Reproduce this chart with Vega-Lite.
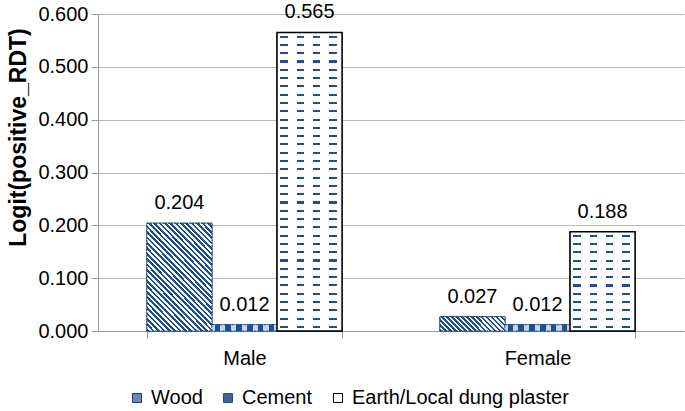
{
  "$schema": "https://vega.github.io/schema/vega-lite/v6.json",
  "width": 586,
  "height": 317,
  "autosize": "none",
  "padding": {"left": 98, "top": 14, "right": 1, "bottom": 80},
  "background": "#ffffff",
  "config": {
    "view": {"stroke": null},
    "font": "Liberation Sans",
    "axis": {"labelFont": "Liberation Sans", "labelFontSize": 20, "labelColor": "#000000", "domainColor": "#999999", "tickColor": "#999999", "gridColor": "#b8b8b8", "titleFont": "Liberation Sans", "titleColor": "#000000"},
    "legend": {"labelFont": "Liberation Sans", "labelFontSize": 20, "labelColor": "#000000", "labelLimit": 0}
  },
  "data": {"values": [
    {"sex": "Male", "material": "Wood", "value": 0.204},
    {"sex": "Male", "material": "Cement", "value": 0.012},
    {"sex": "Male", "material": "Earth/Local dung plaster", "value": 0.565},
    {"sex": "Female", "material": "Wood", "value": 0.027},
    {"sex": "Female", "material": "Cement", "value": 0.012},
    {"sex": "Female", "material": "Earth/Local dung plaster", "value": 0.188}
  ]},
  "encoding": {
    "x": {"field": "sex", "type": "nominal", "sort": ["Male", "Female"],
      "scale": {"domain": ["Male", "Female"], "paddingInner": 0.334, "paddingOuter": 0.167},
      "axis": {"title": null, "labelAngle": 0, "tickBand": "extent", "tickSize": 7, "labelPadding": 10, "grid": false}},
    "xOffset": {"field": "material", "type": "nominal",
      "scale": {"domain": ["Wood", "Cement", "Earth/Local dung plaster"], "paddingInner": 0, "paddingOuter": 0}},
    "y": {"field": "value", "type": "quantitative",
      "scale": {"domain": [0, 0.6], "nice": false, "zero": true},
      "axis": {"values": [0, 0.1, 0.2, 0.3, 0.4, 0.5, 0.6], "format": ".3f", "tickSize": 7, "labelPadding": 3, "grid": true,
        "title": "Logit(positive_RDT)", "titleFontSize": 23, "titleFontWeight": "bold", "titleX": -80, "titleY": 123, "titleAlign": "center", "titleBaseline": "middle"}}
  },
  "layer": [
    {
      "mark": {"type": "bar", "strokeWidth": 1},
      "encoding": {
        "fill": {"field": "material", "type": "nominal",
          "scale": {"domain": ["Wood", "Cement", "Earth/Local dung plaster"], "range": ["#6a89b8", "#3f6396", "#ffffff"]},
          "legend": {"title": null, "orient": "none", "direction": "horizontal", "legendX": 29, "legendY": 374, "symbolType": "square", "symbolSize": 81, "symbolStrokeWidth": 1, "labelOffset": 4, "columnPadding": 15, "labelLimit": 0}},
        "stroke": {"field": "material", "type": "nominal",
          "scale": {"domain": ["Wood", "Cement", "Earth/Local dung plaster"], "range": ["#1d3a66", "#1d4f91", "#000000"]},
          "legend": {"title": null, "orient": "none", "direction": "horizontal", "legendX": 29, "legendY": 374, "symbolType": "square", "symbolSize": 81, "symbolStrokeWidth": 1, "labelOffset": 4, "columnPadding": 15, "labelLimit": 0}}
      }
    },
    {
      "transform": [{"filter": "datum.material === 'Wood' && datum.sex === 'Male'"}],
      "mark": {"type": "bar", "stroke": "#1d3a66", "strokeWidth": 1, "strokeDash": [2, 1],
        "fill": {"gradient": "linear", "x1": 0, "y1": 1, "x2": 0.717, "y2": -0.173, "stops": [
          {"offset":0,"color":"#1d4f91"},
          {"offset":0.015625,"color":"#1d4f91"},{"offset":0.015625,"color":"#fff"},
          {"offset":0.03125,"color":"#fff"},{"offset":0.03125,"color":"#1d4f91"},
          {"offset":0.046875,"color":"#1d4f91"},{"offset":0.046875,"color":"#fff"},
          {"offset":0.0625,"color":"#fff"},{"offset":0.0625,"color":"#1d4f91"},
          {"offset":0.078125,"color":"#1d4f91"},{"offset":0.078125,"color":"#fff"},
          {"offset":0.09375,"color":"#fff"},{"offset":0.09375,"color":"#1d4f91"},
          {"offset":0.109375,"color":"#1d4f91"},{"offset":0.109375,"color":"#fff"},
          {"offset":0.125,"color":"#fff"},{"offset":0.125,"color":"#1d4f91"},
          {"offset":0.140625,"color":"#1d4f91"},{"offset":0.140625,"color":"#fff"},
          {"offset":0.15625,"color":"#fff"},{"offset":0.15625,"color":"#1d4f91"},
          {"offset":0.171875,"color":"#1d4f91"},{"offset":0.171875,"color":"#fff"},
          {"offset":0.1875,"color":"#fff"},{"offset":0.1875,"color":"#1d4f91"},
          {"offset":0.203125,"color":"#1d4f91"},{"offset":0.203125,"color":"#fff"},
          {"offset":0.21875,"color":"#fff"},{"offset":0.21875,"color":"#1d4f91"},
          {"offset":0.234375,"color":"#1d4f91"},{"offset":0.234375,"color":"#fff"},
          {"offset":0.25,"color":"#fff"},{"offset":0.25,"color":"#1d4f91"},
          {"offset":0.265625,"color":"#1d4f91"},{"offset":0.265625,"color":"#fff"},
          {"offset":0.28125,"color":"#fff"},{"offset":0.28125,"color":"#1d4f91"},
          {"offset":0.296875,"color":"#1d4f91"},{"offset":0.296875,"color":"#fff"},
          {"offset":0.3125,"color":"#fff"},{"offset":0.3125,"color":"#1d4f91"},
          {"offset":0.328125,"color":"#1d4f91"},{"offset":0.328125,"color":"#fff"},
          {"offset":0.34375,"color":"#fff"},{"offset":0.34375,"color":"#1d4f91"},
          {"offset":0.359375,"color":"#1d4f91"},{"offset":0.359375,"color":"#fff"},
          {"offset":0.375,"color":"#fff"},{"offset":0.375,"color":"#1d4f91"},
          {"offset":0.390625,"color":"#1d4f91"},{"offset":0.390625,"color":"#fff"},
          {"offset":0.40625,"color":"#fff"},{"offset":0.40625,"color":"#1d4f91"},
          {"offset":0.421875,"color":"#1d4f91"},{"offset":0.421875,"color":"#fff"},
          {"offset":0.4375,"color":"#fff"},{"offset":0.4375,"color":"#1d4f91"},
          {"offset":0.453125,"color":"#1d4f91"},{"offset":0.453125,"color":"#fff"},
          {"offset":0.46875,"color":"#fff"},{"offset":0.46875,"color":"#1d4f91"},
          {"offset":0.484375,"color":"#1d4f91"},{"offset":0.484375,"color":"#fff"},
          {"offset":0.5,"color":"#fff"},{"offset":0.5,"color":"#1d4f91"},
          {"offset":0.515625,"color":"#1d4f91"},{"offset":0.515625,"color":"#fff"},
          {"offset":0.53125,"color":"#fff"},{"offset":0.53125,"color":"#1d4f91"},
          {"offset":0.546875,"color":"#1d4f91"},{"offset":0.546875,"color":"#fff"},
          {"offset":0.5625,"color":"#fff"},{"offset":0.5625,"color":"#1d4f91"},
          {"offset":0.578125,"color":"#1d4f91"},{"offset":0.578125,"color":"#fff"},
          {"offset":0.59375,"color":"#fff"},{"offset":0.59375,"color":"#1d4f91"},
          {"offset":0.609375,"color":"#1d4f91"},{"offset":0.609375,"color":"#fff"},
          {"offset":0.625,"color":"#fff"},{"offset":0.625,"color":"#1d4f91"},
          {"offset":0.640625,"color":"#1d4f91"},{"offset":0.640625,"color":"#fff"},
          {"offset":0.65625,"color":"#fff"},{"offset":0.65625,"color":"#1d4f91"},
          {"offset":0.671875,"color":"#1d4f91"},{"offset":0.671875,"color":"#fff"},
          {"offset":0.6875,"color":"#fff"},{"offset":0.6875,"color":"#1d4f91"},
          {"offset":0.703125,"color":"#1d4f91"},{"offset":0.703125,"color":"#fff"},
          {"offset":0.71875,"color":"#fff"},{"offset":0.71875,"color":"#1d4f91"},
          {"offset":0.734375,"color":"#1d4f91"},{"offset":0.734375,"color":"#fff"},
          {"offset":0.75,"color":"#fff"},{"offset":0.75,"color":"#1d4f91"},
          {"offset":0.765625,"color":"#1d4f91"},{"offset":0.765625,"color":"#fff"},
          {"offset":0.78125,"color":"#fff"},{"offset":0.78125,"color":"#1d4f91"},
          {"offset":0.796875,"color":"#1d4f91"},{"offset":0.796875,"color":"#fff"},
          {"offset":0.8125,"color":"#fff"},{"offset":0.8125,"color":"#1d4f91"},
          {"offset":0.828125,"color":"#1d4f91"},{"offset":0.828125,"color":"#fff"},
          {"offset":0.84375,"color":"#fff"},{"offset":0.84375,"color":"#1d4f91"},
          {"offset":0.859375,"color":"#1d4f91"},{"offset":0.859375,"color":"#fff"},
          {"offset":0.875,"color":"#fff"},{"offset":0.875,"color":"#1d4f91"},
          {"offset":0.890625,"color":"#1d4f91"},{"offset":0.890625,"color":"#fff"},
          {"offset":0.90625,"color":"#fff"},{"offset":0.90625,"color":"#1d4f91"},
          {"offset":0.921875,"color":"#1d4f91"},{"offset":0.921875,"color":"#fff"},
          {"offset":0.9375,"color":"#fff"},{"offset":0.9375,"color":"#1d4f91"},
          {"offset":0.953125,"color":"#1d4f91"},{"offset":0.953125,"color":"#fff"},
          {"offset":0.96875,"color":"#fff"},{"offset":0.96875,"color":"#1d4f91"},
          {"offset":0.984375,"color":"#1d4f91"},{"offset":0.984375,"color":"#fff"},
          {"offset":1,"color":"#fff"}
        ]}}
    },
    {
      "transform": [{"filter": "datum.material === 'Wood' && datum.sex === 'Female'"}],
      "mark": {"type": "bar", "stroke": "#1d3a66", "strokeWidth": 1, "strokeDash": [2, 1],
        "fill": {"gradient": "linear", "x1": 0, "y1": 1, "x2": 1.162, "y2": 0.749, "stops": [
          {"offset":0,"color":"#1d4f91"},
          {"offset":0.03125,"color":"#1d4f91"},{"offset":0.03125,"color":"#fff"},
          {"offset":0.0625,"color":"#fff"},{"offset":0.0625,"color":"#1d4f91"},
          {"offset":0.09375,"color":"#1d4f91"},{"offset":0.09375,"color":"#fff"},
          {"offset":0.125,"color":"#fff"},{"offset":0.125,"color":"#1d4f91"},
          {"offset":0.15625,"color":"#1d4f91"},{"offset":0.15625,"color":"#fff"},
          {"offset":0.1875,"color":"#fff"},{"offset":0.1875,"color":"#1d4f91"},
          {"offset":0.21875,"color":"#1d4f91"},{"offset":0.21875,"color":"#fff"},
          {"offset":0.25,"color":"#fff"},{"offset":0.25,"color":"#1d4f91"},
          {"offset":0.28125,"color":"#1d4f91"},{"offset":0.28125,"color":"#fff"},
          {"offset":0.3125,"color":"#fff"},{"offset":0.3125,"color":"#1d4f91"},
          {"offset":0.34375,"color":"#1d4f91"},{"offset":0.34375,"color":"#fff"},
          {"offset":0.375,"color":"#fff"},{"offset":0.375,"color":"#1d4f91"},
          {"offset":0.40625,"color":"#1d4f91"},{"offset":0.40625,"color":"#fff"},
          {"offset":0.4375,"color":"#fff"},{"offset":0.4375,"color":"#1d4f91"},
          {"offset":0.46875,"color":"#1d4f91"},{"offset":0.46875,"color":"#fff"},
          {"offset":0.5,"color":"#fff"},{"offset":0.5,"color":"#1d4f91"},
          {"offset":0.53125,"color":"#1d4f91"},{"offset":0.53125,"color":"#fff"},
          {"offset":0.5625,"color":"#fff"},{"offset":0.5625,"color":"#1d4f91"},
          {"offset":0.59375,"color":"#1d4f91"},{"offset":0.59375,"color":"#fff"},
          {"offset":0.625,"color":"#fff"},{"offset":0.625,"color":"#1d4f91"},
          {"offset":0.65625,"color":"#1d4f91"},{"offset":0.65625,"color":"#fff"},
          {"offset":0.6875,"color":"#fff"},{"offset":0.6875,"color":"#1d4f91"},
          {"offset":0.71875,"color":"#1d4f91"},{"offset":0.71875,"color":"#fff"},
          {"offset":0.75,"color":"#fff"},{"offset":0.75,"color":"#1d4f91"},
          {"offset":0.78125,"color":"#1d4f91"},{"offset":0.78125,"color":"#fff"},
          {"offset":0.8125,"color":"#fff"},{"offset":0.8125,"color":"#1d4f91"},
          {"offset":0.84375,"color":"#1d4f91"},{"offset":0.84375,"color":"#fff"},
          {"offset":0.875,"color":"#fff"},{"offset":0.875,"color":"#1d4f91"},
          {"offset":0.90625,"color":"#1d4f91"},{"offset":0.90625,"color":"#fff"},
          {"offset":0.9375,"color":"#fff"},{"offset":0.9375,"color":"#1d4f91"},
          {"offset":0.96875,"color":"#1d4f91"},{"offset":0.96875,"color":"#fff"},
          {"offset":1,"color":"#fff"}
        ]}}
    },
    {
      "transform": [{"filter": "datum.material === 'Cement'"}],
      "mark": {"type": "bar", "stroke": "#1d4f91", "strokeWidth": 1, "strokeDash": [2, 2],
        "fill": {"gradient": "linear", "x1": 0, "y1": 0, "x2": 1, "y2": 0, "stops": [
          {"offset":0,"color":"#c9d5e8"},
          {"offset":0.04,"color":"#c9d5e8"},{"offset":0.04,"color":"#1d4f91"},
          {"offset":0.125,"color":"#1d4f91"},{"offset":0.125,"color":"#c9d5e8"},
          {"offset":0.207,"color":"#c9d5e8"},{"offset":0.207,"color":"#1d4f91"},
          {"offset":0.292,"color":"#1d4f91"},{"offset":0.292,"color":"#c9d5e8"},
          {"offset":0.373,"color":"#c9d5e8"},{"offset":0.373,"color":"#1d4f91"},
          {"offset":0.458,"color":"#1d4f91"},{"offset":0.458,"color":"#c9d5e8"},
          {"offset":0.54,"color":"#c9d5e8"},{"offset":0.54,"color":"#1d4f91"},
          {"offset":0.625,"color":"#1d4f91"},{"offset":0.625,"color":"#c9d5e8"},
          {"offset":0.707,"color":"#c9d5e8"},{"offset":0.707,"color":"#1d4f91"},
          {"offset":0.792,"color":"#1d4f91"},{"offset":0.792,"color":"#c9d5e8"},
          {"offset":0.873,"color":"#c9d5e8"},{"offset":0.873,"color":"#1d4f91"},
          {"offset":0.958,"color":"#1d4f91"},{"offset":0.958,"color":"#c9d5e8"},
          {"offset":1,"color":"#c9d5e8"}
        ]}}
    },
    {
      "transform": [{"filter": "datum.material === 'Earth/Local dung plaster' && datum.sex === 'Male'"}],
      "mark": {"type": "bar",
        "fill": {"gradient": "linear", "x1": 0, "y1": 0, "x2": 0, "y2": 1, "stops": [
          {"offset":0,"color":"#fff"},
          {"offset":0.0104,"color":"#fff"},{"offset":0.0104,"color":"#1d4f91"},{"offset":0.0174,"color":"#1d4f91"},{"offset":0.0174,"color":"#fff"},
          {"offset":0.0382,"color":"#fff"},{"offset":0.0382,"color":"#1d4f91"},{"offset":0.0451,"color":"#1d4f91"},{"offset":0.0451,"color":"#fff"},
          {"offset":0.0660,"color":"#fff"},{"offset":0.0660,"color":"#1d4f91"},{"offset":0.0729,"color":"#1d4f91"},{"offset":0.0729,"color":"#fff"},
          {"offset":0.0938,"color":"#fff"},{"offset":0.0938,"color":"#1d4f91"},{"offset":0.1007,"color":"#1d4f91"},{"offset":0.1007,"color":"#fff"},
          {"offset":0.1215,"color":"#fff"},{"offset":0.1215,"color":"#1d4f91"},{"offset":0.1285,"color":"#1d4f91"},{"offset":0.1285,"color":"#fff"},
          {"offset":0.1493,"color":"#fff"},{"offset":0.1493,"color":"#1d4f91"},{"offset":0.1563,"color":"#1d4f91"},{"offset":0.1563,"color":"#fff"},
          {"offset":0.1771,"color":"#fff"},{"offset":0.1771,"color":"#1d4f91"},{"offset":0.1840,"color":"#1d4f91"},{"offset":0.1840,"color":"#fff"},
          {"offset":0.2049,"color":"#fff"},{"offset":0.2049,"color":"#1d4f91"},{"offset":0.2118,"color":"#1d4f91"},{"offset":0.2118,"color":"#fff"},
          {"offset":0.2326,"color":"#fff"},{"offset":0.2326,"color":"#1d4f91"},{"offset":0.2396,"color":"#1d4f91"},{"offset":0.2396,"color":"#fff"},
          {"offset":0.2604,"color":"#fff"},{"offset":0.2604,"color":"#1d4f91"},{"offset":0.2674,"color":"#1d4f91"},{"offset":0.2674,"color":"#fff"},
          {"offset":0.2882,"color":"#fff"},{"offset":0.2882,"color":"#1d4f91"},{"offset":0.2951,"color":"#1d4f91"},{"offset":0.2951,"color":"#fff"},
          {"offset":0.3160,"color":"#fff"},{"offset":0.3160,"color":"#1d4f91"},{"offset":0.3229,"color":"#1d4f91"},{"offset":0.3229,"color":"#fff"},
          {"offset":0.3438,"color":"#fff"},{"offset":0.3438,"color":"#1d4f91"},{"offset":0.3507,"color":"#1d4f91"},{"offset":0.3507,"color":"#fff"},
          {"offset":0.3715,"color":"#fff"},{"offset":0.3715,"color":"#1d4f91"},{"offset":0.3785,"color":"#1d4f91"},{"offset":0.3785,"color":"#fff"},
          {"offset":0.3993,"color":"#fff"},{"offset":0.3993,"color":"#1d4f91"},{"offset":0.4063,"color":"#1d4f91"},{"offset":0.4063,"color":"#fff"},
          {"offset":0.4271,"color":"#fff"},{"offset":0.4271,"color":"#1d4f91"},{"offset":0.4340,"color":"#1d4f91"},{"offset":0.4340,"color":"#fff"},
          {"offset":0.4549,"color":"#fff"},{"offset":0.4549,"color":"#1d4f91"},{"offset":0.4618,"color":"#1d4f91"},{"offset":0.4618,"color":"#fff"},
          {"offset":0.4826,"color":"#fff"},{"offset":0.4826,"color":"#1d4f91"},{"offset":0.4896,"color":"#1d4f91"},{"offset":0.4896,"color":"#fff"},
          {"offset":0.5104,"color":"#fff"},{"offset":0.5104,"color":"#1d4f91"},{"offset":0.5174,"color":"#1d4f91"},{"offset":0.5174,"color":"#fff"},
          {"offset":0.5382,"color":"#fff"},{"offset":0.5382,"color":"#1d4f91"},{"offset":0.5451,"color":"#1d4f91"},{"offset":0.5451,"color":"#fff"},
          {"offset":0.5660,"color":"#fff"},{"offset":0.5660,"color":"#1d4f91"},{"offset":0.5729,"color":"#1d4f91"},{"offset":0.5729,"color":"#fff"},
          {"offset":0.5938,"color":"#fff"},{"offset":0.5938,"color":"#1d4f91"},{"offset":0.6007,"color":"#1d4f91"},{"offset":0.6007,"color":"#fff"},
          {"offset":0.6215,"color":"#fff"},{"offset":0.6215,"color":"#1d4f91"},{"offset":0.6285,"color":"#1d4f91"},{"offset":0.6285,"color":"#fff"},
          {"offset":0.6493,"color":"#fff"},{"offset":0.6493,"color":"#1d4f91"},{"offset":0.6563,"color":"#1d4f91"},{"offset":0.6563,"color":"#fff"},
          {"offset":0.6771,"color":"#fff"},{"offset":0.6771,"color":"#1d4f91"},{"offset":0.6840,"color":"#1d4f91"},{"offset":0.6840,"color":"#fff"},
          {"offset":0.7049,"color":"#fff"},{"offset":0.7049,"color":"#1d4f91"},{"offset":0.7118,"color":"#1d4f91"},{"offset":0.7118,"color":"#fff"},
          {"offset":0.7326,"color":"#fff"},{"offset":0.7326,"color":"#1d4f91"},{"offset":0.7396,"color":"#1d4f91"},{"offset":0.7396,"color":"#fff"},
          {"offset":0.7604,"color":"#fff"},{"offset":0.7604,"color":"#1d4f91"},{"offset":0.7674,"color":"#1d4f91"},{"offset":0.7674,"color":"#fff"},
          {"offset":0.7882,"color":"#fff"},{"offset":0.7882,"color":"#1d4f91"},{"offset":0.7951,"color":"#1d4f91"},{"offset":0.7951,"color":"#fff"},
          {"offset":0.8160,"color":"#fff"},{"offset":0.8160,"color":"#1d4f91"},{"offset":0.8229,"color":"#1d4f91"},{"offset":0.8229,"color":"#fff"},
          {"offset":0.8438,"color":"#fff"},{"offset":0.8438,"color":"#1d4f91"},{"offset":0.8507,"color":"#1d4f91"},{"offset":0.8507,"color":"#fff"},
          {"offset":0.8715,"color":"#fff"},{"offset":0.8715,"color":"#1d4f91"},{"offset":0.8785,"color":"#1d4f91"},{"offset":0.8785,"color":"#fff"},
          {"offset":0.8993,"color":"#fff"},{"offset":0.8993,"color":"#1d4f91"},{"offset":0.9063,"color":"#1d4f91"},{"offset":0.9063,"color":"#fff"},
          {"offset":0.9271,"color":"#fff"},{"offset":0.9271,"color":"#1d4f91"},{"offset":0.9340,"color":"#1d4f91"},{"offset":0.9340,"color":"#fff"},
          {"offset":0.9549,"color":"#fff"},{"offset":0.9549,"color":"#1d4f91"},{"offset":0.9618,"color":"#1d4f91"},{"offset":0.9618,"color":"#fff"},
          {"offset":0.9826,"color":"#fff"},{"offset":0.9826,"color":"#1d4f91"},{"offset":0.9896,"color":"#1d4f91"},{"offset":0.9896,"color":"#fff"},
          {"offset":1,"color":"#fff"}
        ]}}
    },
    {
      "transform": [{"filter": "datum.material === 'Earth/Local dung plaster' && datum.sex === 'Female'"}],
      "mark": {"type": "bar",
        "fill": {"gradient": "linear", "x1": 0, "y1": 0, "x2": 0, "y2": 1, "stops": [
          {"offset":0,"color":"#fff"},
          {"offset":0.0313,"color":"#fff"},{"offset":0.0313,"color":"#1d4f91"},{"offset":0.0521,"color":"#1d4f91"},{"offset":0.0521,"color":"#fff"},
          {"offset":0.1146,"color":"#fff"},{"offset":0.1146,"color":"#1d4f91"},{"offset":0.1354,"color":"#1d4f91"},{"offset":0.1354,"color":"#fff"},
          {"offset":0.1979,"color":"#fff"},{"offset":0.1979,"color":"#1d4f91"},{"offset":0.2188,"color":"#1d4f91"},{"offset":0.2188,"color":"#fff"},
          {"offset":0.2813,"color":"#fff"},{"offset":0.2813,"color":"#1d4f91"},{"offset":0.3021,"color":"#1d4f91"},{"offset":0.3021,"color":"#fff"},
          {"offset":0.3646,"color":"#fff"},{"offset":0.3646,"color":"#1d4f91"},{"offset":0.3854,"color":"#1d4f91"},{"offset":0.3854,"color":"#fff"},
          {"offset":0.4479,"color":"#fff"},{"offset":0.4479,"color":"#1d4f91"},{"offset":0.4688,"color":"#1d4f91"},{"offset":0.4688,"color":"#fff"},
          {"offset":0.5313,"color":"#fff"},{"offset":0.5313,"color":"#1d4f91"},{"offset":0.5521,"color":"#1d4f91"},{"offset":0.5521,"color":"#fff"},
          {"offset":0.6146,"color":"#fff"},{"offset":0.6146,"color":"#1d4f91"},{"offset":0.6354,"color":"#1d4f91"},{"offset":0.6354,"color":"#fff"},
          {"offset":0.6979,"color":"#fff"},{"offset":0.6979,"color":"#1d4f91"},{"offset":0.7188,"color":"#1d4f91"},{"offset":0.7188,"color":"#fff"},
          {"offset":0.7813,"color":"#fff"},{"offset":0.7813,"color":"#1d4f91"},{"offset":0.8021,"color":"#1d4f91"},{"offset":0.8021,"color":"#fff"},
          {"offset":0.8646,"color":"#fff"},{"offset":0.8646,"color":"#1d4f91"},{"offset":0.8854,"color":"#1d4f91"},{"offset":0.8854,"color":"#fff"},
          {"offset":0.9479,"color":"#fff"},{"offset":0.9479,"color":"#1d4f91"},{"offset":0.9688,"color":"#1d4f91"},{"offset":0.9688,"color":"#fff"},
          {"offset":1,"color":"#fff"}
        ]}}
    },
    {
      "transform": [{"filter": "datum.material === 'Earth/Local dung plaster'"}],
      "mark": {"type": "bar", "stroke": "#000000", "strokeWidth": 1.5,
        "fill": {"gradient": "linear", "x1": 0, "y1": 0, "x2": 1, "y2": 0, "stops": [
          {"offset":0,"color":"#ffffff"},
          {"offset":0.05,"color":"#ffffff"},{"offset":0.05,"color":"rgba(255,255,255,0)"},{"offset":0.165,"color":"rgba(255,255,255,0)"},{"offset":0.165,"color":"#ffffff"},
          {"offset":0.30,"color":"#ffffff"},{"offset":0.30,"color":"rgba(255,255,255,0)"},{"offset":0.415,"color":"rgba(255,255,255,0)"},{"offset":0.415,"color":"#ffffff"},
          {"offset":0.55,"color":"#ffffff"},{"offset":0.55,"color":"rgba(255,255,255,0)"},{"offset":0.665,"color":"rgba(255,255,255,0)"},{"offset":0.665,"color":"#ffffff"},
          {"offset":0.80,"color":"#ffffff"},{"offset":0.80,"color":"rgba(255,255,255,0)"},{"offset":0.915,"color":"rgba(255,255,255,0)"},{"offset":0.915,"color":"#ffffff"},
          {"offset":1,"color":"#ffffff"}
        ]}}
    },
    {
      "mark": {"type": "text", "font": "Liberation Sans", "fontSize": 20, "color": "#000000", "baseline": "alphabetic", "align": "center", "dy": -14},
      "encoding": {"text": {"field": "value", "type": "quantitative", "format": ".3f"}}
    }
  ]
}
